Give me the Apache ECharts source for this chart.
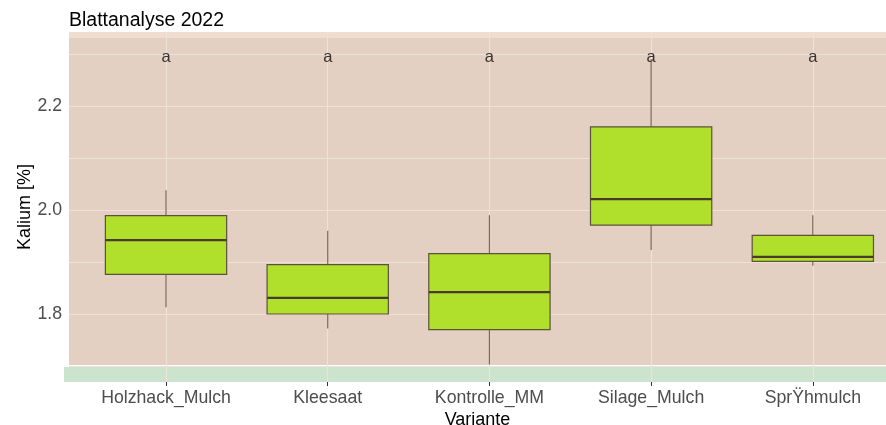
<!DOCTYPE html>
<html>
<head>
<meta charset="utf-8">
<title>Blattanalyse 2022</title>
<script src="https://cdn.jsdelivr.net/npm/echarts@6/dist/echarts.min.js"></script>
<style>
  html, body { margin: 0; padding: 0; background: #ffffff; }
  #chart { width: 886px; height: 425px; }
</style>
</head>
<body>
<div id="chart"></div>
<script>
// Leaf analysis 2022: potassium content per treatment variant
const categories = ['Holzhack_Mulch', 'Kleesaat', 'Kontrolle_MM', 'Silage_Mulch', 'SprŸhmulch'];
const whiskerLow  = [1.813, 1.772, 1.703, 1.923, 1.893];
const q1          = [1.876, 1.800, 1.770, 1.971, 1.901];
const median      = [1.942, 1.831, 1.842, 2.021, 1.910];
const q3          = [1.989, 1.895, 1.916, 2.160, 1.951];
const whiskerHigh = [2.038, 1.960, 1.990, 2.290, 1.990];
const groupLetters = ['a', 'a', 'a', 'a', 'a'];
const letterY = 2.294;
const yTicks = [1.8, 2.0, 2.2];
const yGrid = [1.7, 1.8, 1.9, 2.0, 2.1, 2.2, 2.3];

const FONT = '"Liberation Sans", Arial, sans-serif';

const boxData = categories.map((c, i) => [i, whiskerLow[i], q1[i], median[i], q3[i], whiskerHigh[i]]);
const letterData = categories.map((c, i) => [i, letterY, groupLetters[i]]);

const chart = echarts.init(document.getElementById('chart'), null, { renderer: 'canvas' });

function renderBox(params, api) {
  const x = api.value(0);
  const lo = api.coord([x, api.value(1)]);
  const b1 = api.coord([x, api.value(2)]);
  const md = api.coord([x, api.value(3)]);
  const b3 = api.coord([x, api.value(4)]);
  const hi = api.coord([x, api.value(5)]);
  const halfW = api.size([0.75, 0])[0] / 2;
  const cx = lo[0];
  return {
    type: 'group',
    children: [
      { type: 'line', shape: { x1: cx, y1: hi[1], x2: cx, y2: b3[1] },
        style: { stroke: '#7c685b', lineWidth: 1.2 } },
      { type: 'line', shape: { x1: cx, y1: b1[1], x2: cx, y2: lo[1] },
        style: { stroke: '#7c685b', lineWidth: 1.2 } },
      { type: 'rect', shape: { x: cx - halfW, y: b3[1], width: 2 * halfW, height: b1[1] - b3[1] },
        style: { fill: '#b0e02b', stroke: '#5e5139', lineWidth: 1.2 } },
      { type: 'line', shape: { x1: cx - halfW, y1: md[1], x2: cx + halfW, y2: md[1] },
        style: { stroke: '#4a3a2a', lineWidth: 2.2 } }
    ]
  };
}

function renderLetter(params, api) {
  const p = api.coord([api.value(0), api.value(1)]);
  return {
    type: 'text',
    x: p[0], y: p[1],
    style: {
      text: groupLetters[params.dataIndex],
      fill: '#3a3330',
      font: '16.5px ' + FONT,
      align: 'center',
      verticalAlign: 'middle'
    }
  };
}

const option = {
  animation: false,
  backgroundColor: '#ffffff',
  title: {
    text: 'Blattanalyse 2022',
    left: 69, top: 11, padding: 0,
    textStyle: { fontFamily: FONT, fontSize: 19.5, fontWeight: 'normal', color: '#000000' }
  },
  // small lip of the lower band reaching past the panel's left edge
  graphic: [
    { type: 'rect', left: 64, top: 367, shape: { width: 6, height: 15 },
      style: { fill: '#cce4cd' }, silent: true, z: 0 }
  ],
  grid: { left: 69, top: 32, right: 0, height: 350, containLabel: false, outerBoundsMode: 'none' },
  xAxis: {
    type: 'value',
    min: -0.6, max: 4.4525,
    name: 'Variante',
    nameLocation: 'middle',
    nameGap: 29,
    nameMoveOverlap: false,
    nameTextStyle: { fontFamily: FONT, fontSize: 18, color: '#000000' },
    axisLine: { show: false },
    axisTick: { show: true, length: 4, lineStyle: { color: '#333333', width: 1 }, customValues: [0, 1, 2, 3, 4] },
    axisLabel: {
      customValues: [0, 1, 2, 3, 4],
      margin: 7,
      fontFamily: FONT, fontSize: 17.7, color: '#4d4d4d',
      formatter: v => categories[Math.round(v)] || ''
    },
    splitLine: { show: false }
  },
  yAxis: {
    type: 'value',
    min: 1.6692, max: 2.3423,
    name: 'Kalium [%]',
    nameLocation: 'middle',
    nameRotate: 90,
    nameGap: 35,
    nameMoveOverlap: false,
    nameTextStyle: { fontFamily: FONT, fontSize: 18, color: '#000000' },
    axisLine: { show: false },
    axisTick: { show: true, length: 4, lineStyle: { color: '#333333', width: 1 }, customValues: yTicks },
    axisLabel: {
      customValues: yTicks,
      margin: 7,
      fontFamily: FONT, fontSize: 17.7, color: '#4d4d4d',
      formatter: v => v.toFixed(1)
    },
    splitLine: { show: false }
  },
  series: [
    {
      // background bands
      type: 'line', data: [], z: 1, silent: true,
      markArea: {
        silent: true,
        z: 1,
        data: [
          [{ yAxis: 1.702, itemStyle: { color: '#e3d0c3' } }, { yAxis: 2.331 }],
          [{ yAxis: 2.331, itemStyle: { color: '#efddd1' } }, { yAxis: 2.3423 }],
          [{ yAxis: 1.6692, itemStyle: { color: '#cce4cd' } }, { yAxis: 1.698 }]
        ]
      }
    },
    {
      // grid lines drawn over the bands
      type: 'line', data: [], z: 2, silent: true,
      markLine: {
        silent: true,
        z: 2,
        symbol: 'none',
        label: { show: false },
        lineStyle: { color: '#eee1d8', width: 1.2, type: 'solid' },
        data: [
          ...yGrid.map(v => ({ yAxis: v })),
          ...categories.map((c, i) => ({ xAxis: i }))
        ]
      }
    },
    {
      type: 'custom',
      z: 5,
      renderItem: renderBox,
      encode: { x: 0, y: [1, 2, 3, 4, 5] },
      data: boxData
    },
    {
      type: 'custom',
      z: 6,
      renderItem: renderLetter,
      encode: { x: 0, y: 1 },
      data: letterData
    }
  ]
};

chart.setOption(option);
</script>
</body>
</html>
